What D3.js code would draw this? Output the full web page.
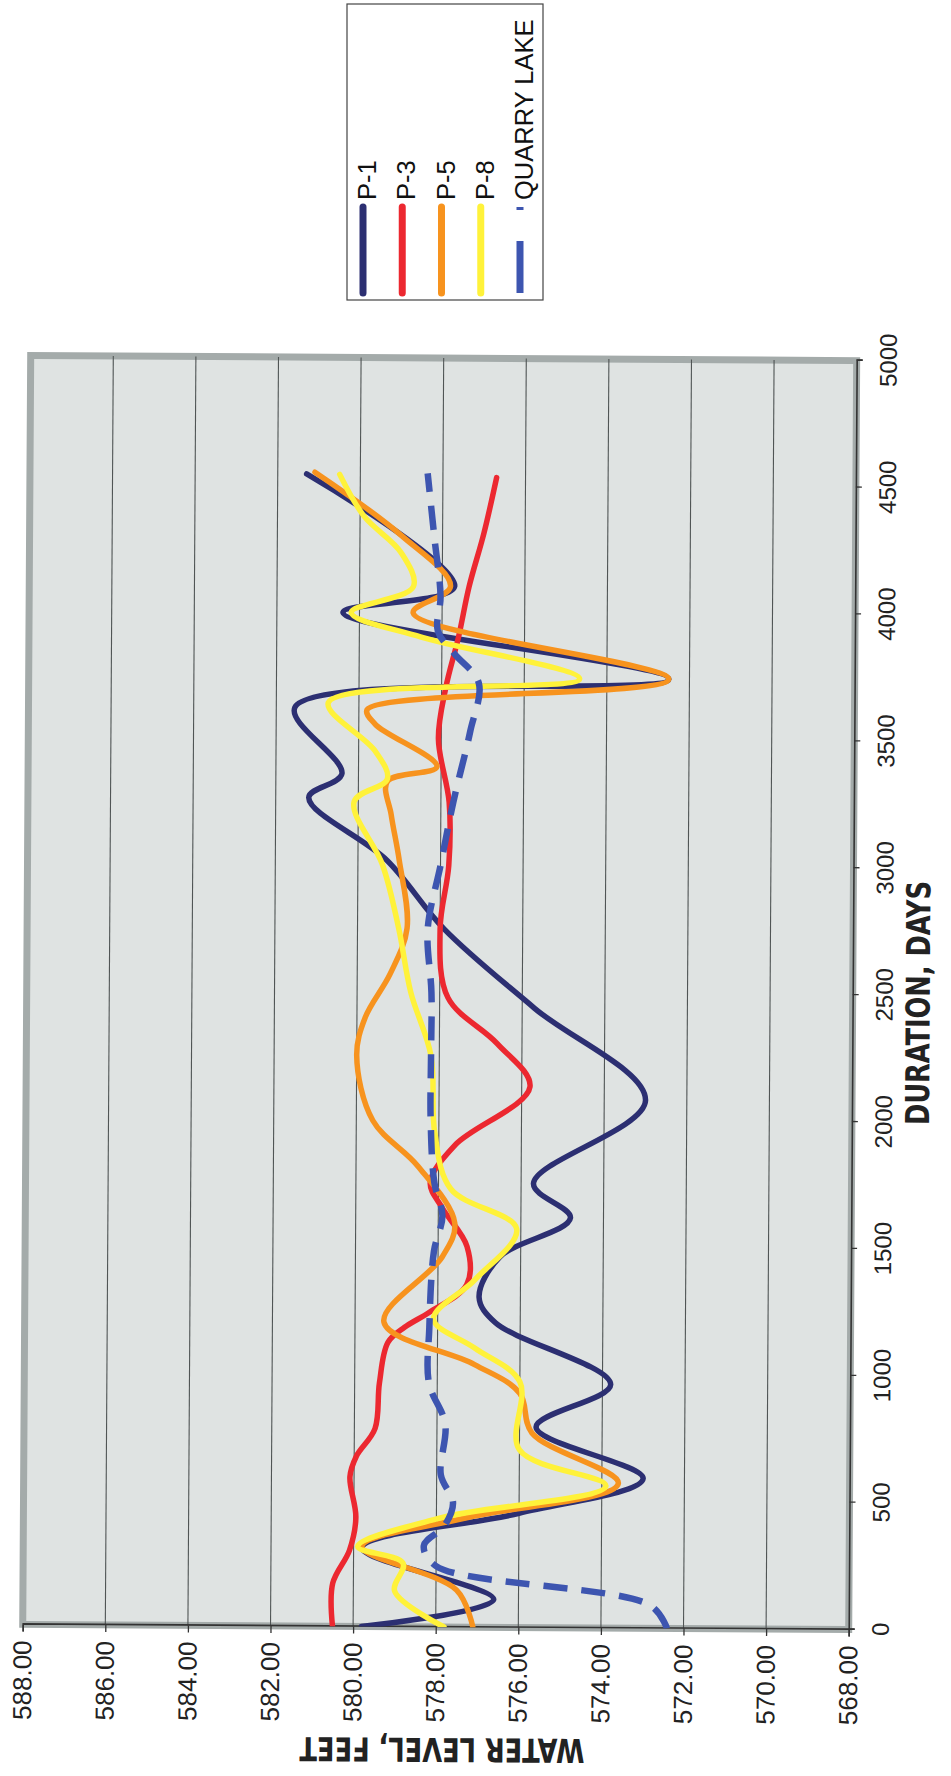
<!DOCTYPE html>
<html><head><meta charset="utf-8">
<script src="https://cdn.jsdelivr.net/npm/d3@7"></script>
<style>body{margin:0;background:#fff}svg{display:block}</style>
</head><body>
<script>
// ---------- data ----------
const seriesNames = ["P-1", "P-3", "P-5", "P-8", "QUARRY LAKE"];
const seriesColors = ["#2c2f72", "#ec2830", "#f7931e", "#fff23a", "#3d55b0"];

const p1Days   = [0, 110, 310, 450, 590, 790, 960, 1200, 1300, 1460, 1615, 1750, 2080, 2440, 2750, 3020, 3265, 3360, 3620, 3740, 3995, 4100, 4540];
const p1Levels = [579.8, 576.6, 579.8, 576.0, 573.0, 575.6, 573.8, 576.6, 577.0, 576.5, 574.8, 575.7, 573.0, 575.7, 577.9, 579.3, 581.2, 580.4, 581.55, 572.5, 580.4, 577.7, 581.3];

const p3Days   = [0, 170, 300, 430, 590, 670, 780, 960, 1120, 1180, 1240, 1350, 1500, 1650, 1750, 1900, 2130, 2300, 2480, 2750, 3000, 3250, 3500, 3700, 3900, 4100, 4310, 4530];
const p3Levels = [580.5, 580.5, 580.1, 579.95, 580.1, 579.95, 579.5, 579.4, 579.2, 578.8, 578.2, 577.3, 577.3, 577.9, 578.2, 577.6, 575.8, 576.6, 577.8, 578.0, 577.8, 577.8, 578.07, 577.9, 577.6, 577.35, 577.0, 576.7];

const p5Days   = [0, 146, 315, 430, 570, 767, 923, 1035, 1200, 1458, 1592, 1815, 1994, 2250, 2400, 2573, 2752, 3020, 3198, 3330, 3390, 3555, 3613, 3740, 3995, 4100, 4300, 4547];
const p5Levels = [577.1, 577.5, 579.8, 577.3, 573.6, 575.7, 576.0, 577.1, 579.3, 577.9, 577.6, 578.5, 579.6, 580.0, 579.8, 579.2, 578.8, 579.0, 579.2, 579.3, 578.1, 579.6, 579.8, 572.5, 578.7, 577.8, 579.0, 581.1];

const p8Days   = [0, 140, 250, 315, 430, 560, 700, 968, 1100, 1213, 1370, 1570, 1726, 1950, 2250, 2500, 2750, 3000, 3250, 3340, 3450, 3640, 3739, 3900, 3995, 4098, 4232, 4374, 4539];
const p8Levels = [577.8, 579.0, 578.8, 579.9, 577.9, 573.9, 576.0, 576.0, 577.1, 578.1, 577.1, 576.1, 577.7, 578.1, 578.2, 578.7, 579.0, 579.4, 580.1, 579.3, 579.6, 580.74, 574.66, 578.5, 580.2, 578.7, 579.0, 579.9, 580.5];

const qlDays   = [0, 90, 240, 320, 400, 490, 600, 800, 960, 1180, 1480, 1620, 1750, 2000, 2250, 2500, 2750, 3000, 3250, 3530, 3720, 3836, 3925, 4060, 4295, 4545];
const qlLevels = [572.4, 572.8, 578.0, 578.3, 577.8, 577.6, 577.9, 577.8, 578.2, 578.2, 578.1, 577.9, 578.1, 578.2, 578.2, 578.2, 578.3, 578.0, 577.7, 577.3, 577.1, 577.7, 578.1, 578.04, 578.2, 578.37];

const dayTicks = [0, 500, 1000, 1500, 2000, 2500, 3000, 3500, 4000, 4500, 5000];
const levelTicks = [568, 570, 572, 574, 576, 578, 580, 582, 584, 586, 588];
const xTitle = "DURATION, DAYS";
const yTitle = "WATER LEVEL, FEET";

// ---------- layout (chart drawn upright, then turned) ----------
const W = 951, H = 1776;
const X0 = 149, X1 = 1418, Y0 = 852, Y1 = 26;
const x = d3.scaleLinear().domain([0, 5000]).range([X0, X1]);
const y = d3.scaleLinear().domain([568, 588]).range([Y0, Y1]);

const svg = d3.select("body").append("svg").attr("width", W).attr("height", H);
const cxO = (X0 + X1) / 2, cyO = (Y0 + Y1) / 2;
const g = svg.append("g")
  .attr("transform", `translate(439.7,992.5) rotate(-89.64) translate(${-cxO},${-cyO})`);

const labelFont = "'Liberation Sans', Arial, Helvetica, sans-serif";
const titleFont = "'Liberation Sans Narrow', 'Arial Narrow', 'DejaVu Sans Condensed', sans-serif";

// plot area
g.append("rect").attr("x", X0).attr("y", Y1).attr("width", X1 - X0).attr("height", Y0 - Y1)
  .attr("fill", "#dfe3e2").attr("stroke", "#a4abaa").attr("stroke-width", 7);

// gridlines
g.append("g").selectAll("line").data(levelTicks.filter(v => v > 568 && v < 588)).join("line")
  .attr("x1", X0).attr("x2", X1).attr("y1", d => y(d)).attr("y2", d => y(d))
  .attr("stroke", "#505555").attr("stroke-width", 1.1);

// axes
const yAxis = d3.axisLeft(y).tickValues(levelTicks).tickFormat(d => d.toFixed(2)).tickSize(7).tickPadding(9);
const yg = g.append("g").attr("transform", `translate(${X0},0)`).call(yAxis);
yg.select(".domain").attr("stroke", "#333").attr("stroke-width", 1.6);
yg.selectAll(".tick line").attr("stroke", "#333").attr("stroke-width", 1.3);
yg.selectAll("text").attr("font-family", labelFont).attr("font-size", 26).attr("fill", "#222");

const xAxis = d3.axisBottom(x).tickValues(dayTicks).tickFormat(d3.format("d")).tickSize(6).tickPadding(17);
const xg = g.append("g").attr("transform", `translate(0,${Y0})`).call(xAxis);
xg.select(".domain").attr("stroke", "#333").attr("stroke-width", 1.6);
xg.selectAll(".tick line").attr("stroke", "#333").attr("stroke-width", 1.3);
xg.selectAll("text").attr("font-family", labelFont).attr("font-size", 24).attr("fill", "#222");

// titles
g.append("text").attr("x", 776).attr("y", 929).attr("text-anchor", "middle")
  .attr("font-family", titleFont).attr("font-weight", "bold").attr("font-size", 33).attr("fill", "#222")
  .attr("textLength", 244).attr("lengthAdjust", "spacingAndGlyphs").text(xTitle);
g.append("text").attr("transform", "translate(38,446) rotate(-90)").attr("text-anchor", "middle")
  .attr("font-family", titleFont).attr("font-weight", "bold").attr("font-size", 33).attr("fill", "#222")
  .attr("textLength", 285).attr("lengthAdjust", "spacingAndGlyphs").text(yTitle);

// series
const series = [
  { days: p1Days, levels: p1Levels },
  { days: p3Days, levels: p3Levels },
  { days: p5Days, levels: p5Levels },
  { days: p8Days, levels: p8Levels },
  { days: qlDays, levels: qlLevels }
];
const line = d3.line().x(d => x(d[0])).y(d => y(d[1])).curve(d3.curveCatmullRom.alpha(0.5));
const clip = g.append("clipPath").attr("id", "pc").append("rect")
  .attr("x", X0).attr("y", Y1).attr("width", X1 - X0).attr("height", Y0 - Y1);
const lg = g.append("g").attr("clip-path", "url(#pc)");
series.forEach((s, i) => {
  const pts = s.days.map((d, k) => [d, s.levels[k]]);
  lg.append("path").attr("d", line(pts)).attr("fill", "none")
    .attr("stroke", seriesColors[i]).attr("stroke-width", i === 4 ? 6.5 : 5.5)
    .attr("stroke-linejoin", "round").attr("stroke-linecap", i === 4 ? "butt" : "round")
    .attr("stroke-dasharray", i === 4 ? "24,14" : null);
});

// legend (turned by exactly a quarter)
const leg = svg.append("g").attr("transform", `translate(0,${H}) rotate(-90)`);
leg.append("rect").attr("x", 1476).attr("y", 347).attr("width", 296).attr("height", 196)
  .attr("fill", "#fff").attr("stroke", "#444").attr("stroke-width", 1.2);
const rowY = d3.scalePoint().domain(seriesNames).range([363, 520]);
seriesNames.forEach((n, i) => {
  leg.append("line").attr("x1", 1483).attr("x2", 1569).attr("y1", rowY(n)).attr("y2", rowY(n))
    .attr("stroke", seriesColors[i]).attr("stroke-width", 7)
    .attr("stroke-linecap", i === 4 ? "butt" : "round")
    .attr("stroke-dasharray", i === 4 ? "52,31" : null);
  leg.append("text").attr("x", 1576).attr("y", rowY(n) + 13)
    .attr("font-family", labelFont).attr("font-size", 25.5).attr("fill", "#111").text(n);
});
</script>
</body></html>
